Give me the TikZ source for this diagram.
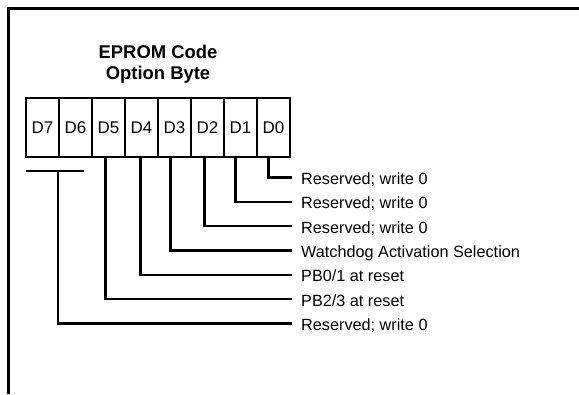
\documentclass[tikz,border=0pt]{standalone}
\usepackage{fontspec}
\setmainfont{Liberation Sans}
\usetikzlibrary{positioning}

\begin{document}
\begin{tikzpicture}[x=1bp,y=-1bp,
		bitcell/.style={draw,line width=2.2bp,minimum width=33bp,minimum height=59bp,inner sep=0pt,outer sep=0pt,font=\fontsize{17}{17}\selectfont},
		bitlabel/.style={anchor=west,inner xsep=9bp,inner ysep=0pt,text height=14bp,text depth=0pt,font=\fontsize{16.3}{16.3}\selectfont},
		lead/.style={line width=2.3bp}]
		\useasboundingbox (0,0) rectangle (579,394);
		\draw[line width=3bp] (8,394) -- (8,8) -- (579,8);
	    \node[align=center,font=\bfseries\fontsize{18.5}{21}\selectfont] (title) at (158,64) {EPROM Code\\Option Byte};

		\node[bitcell] (d7) at (42.5,127.5) {D7};
		\foreach \b/\a in {6/7,5/6,4/5,3/4,2/3,1/2,0/1}
			\node[bitcell,right=0pt of d\a] (d\b) {D\b};

		\foreach \b/\y/\txt in {0/177.5/{Reserved; write 0},1/201.8/{Reserved; write 0},2/226.1/{Reserved; write 0},
			3/250.4/{Watchdog Activation Selection},4/274.7/{PB0/1 at reset},5/299/{PB2/3 at reset},7/323.5/{Reserved; write 0}}
			\node[bitlabel] (l\b) at (292,\y) {\txt};

		\draw[lead] ([xshift=-5bp]d0.south) |- (l0.west);
		\draw[lead] ([xshift=-5bp]d1.south) |- (l1.west);
		\draw[lead] ([xshift=-3bp]d2.south) |- (l2.west);
		\draw[lead] ([xshift=-4bp]d3.south) |- (l3.west);
		\draw[lead] ([xshift=-1bp]d4.south) |- (l4.west);
		\draw[lead] ([xshift=-3bp]d5.south) |- (l5.west);

		\coordinate (bar) at (58,171);
		\draw[lead] (d7.west |- bar) -- (84,171);
		\draw[lead] (bar) |- (l7.west);
    \end{tikzpicture}
\end{document}
